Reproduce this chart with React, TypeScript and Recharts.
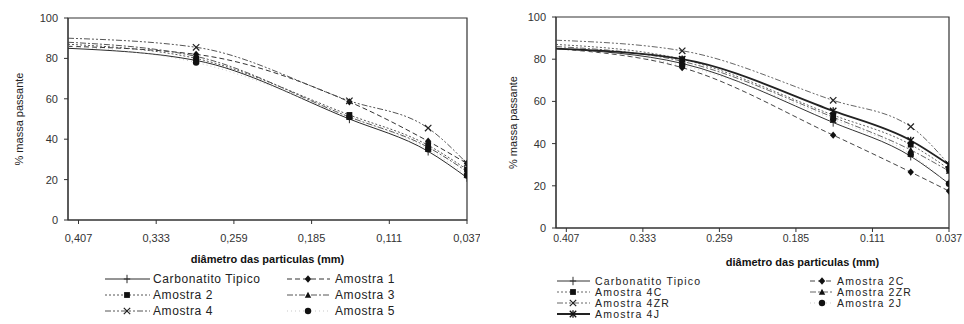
import React from "react";
import { LineChart, Line, XAxis, YAxis, ReferenceArea } from "recharts";

// diametro das particulas (mm) - peneiras
const diametros = [0.417, 0.295, 0.149, 0.074, 0.037];
const xTicks = [0.407, 0.333, 0.259, 0.185, 0.111, 0.037];
const yTicks = [0, 20, 40, 60, 80, 100];

// grafico da esquerda
const carbonatito = [85, 79, 50, 34, 21];
const amostra1 = [86, 82, 58.5, 39, 28];
const amostra2 = [87, 80, 52, 37, 25];
const amostra3 = [88, 81, 51, 36, 24];
const amostra4 = [90, 85.5, 59, 45.5, 28];
const amostra5 = [86, 78, 51, 35, 22];

// grafico da direita
const carbonatitoB = [85, 78, 50, 34, 21];
const amostra2C = [85, 76, 44, 26.5, 17.5];
const amostra2ZR = [86, 79, 52.5, 37, 27];
const amostra4C = [87, 80, 53.5, 39.5, 28];
const amostra4ZR = [89, 84, 60.5, 48, 30];
const amostra2J = [85, 77, 51.5, 35, 21];
const amostra4J = [85, 80, 55.5, 41.5, 30];

type Shape = "plus" | "diamond" | "square" | "triangle" | "x" | "circle" | "star";

type Serie = {
  key: string;
  name: string;
  values: number[];
  dash?: string;
  width: number;
  color: string;
  shape: Shape;
};

const seriesLeft: Serie[] = [
  { key: "carb", name: "Carbonatito Tipico", values: carbonatito, width: 1, color: "#2a2a2a", shape: "plus" },
  { key: "a1", name: "Amostra 1", values: amostra1, dash: "5 3", width: 1, color: "#333", shape: "diamond" },
  { key: "a2", name: "Amostra 2", values: amostra2, dash: "2 2", width: 1, color: "#555", shape: "square" },
  { key: "a3", name: "Amostra 3", values: amostra3, dash: "6 2 2 2", width: 1, color: "#555", shape: "triangle" },
  { key: "a4", name: "Amostra 4", values: amostra4, dash: "6 2 2 2 2 2", width: 1, color: "#555", shape: "x" },
  { key: "a5", name: "Amostra 5", values: amostra5, dash: "1 3", width: 0.8, color: "#bbb", shape: "circle" },
];

const seriesRight: Serie[] = [
  { key: "carb", name: "Carbonatito Tipico", values: carbonatitoB, width: 1, color: "#333", shape: "plus" },
  { key: "a2c", name: "Amostra 2C", values: amostra2C, dash: "5 3", width: 1, color: "#444", shape: "diamond" },
  { key: "a4c", name: "Amostra 4C", values: amostra4C, dash: "2 2", width: 1, color: "#666", shape: "square" },
  { key: "a2zr", name: "Amostra 2ZR", values: amostra2ZR, dash: "6 2 2 2", width: 1, color: "#666", shape: "triangle" },
  { key: "a4zr", name: "Amostra 4ZR", values: amostra4ZR, dash: "6 2 2 2 2 2", width: 1, color: "#666", shape: "x" },
  { key: "a2j", name: "Amostra 2J", values: amostra2J, dash: "1 3", width: 0.8, color: "#bbb", shape: "circle" },
  { key: "a4j", name: "Amostra 4J", values: amostra4J, width: 1.8, color: "#222", shape: "star" },
];

const buildRows = (series: Serie[]) =>
  diametros.map((d, i) => {
    const row: Record<string, number> = { d };
    series.forEach((s) => (row[s.key] = s.values[i]));
    return row;
  });

const Marker = ({ cx, cy, shape, color }: { cx: number; cy: number; shape: Shape; color: string }) => {
  const r = 3.2;
  switch (shape) {
    case "plus":
      return (
        <g stroke={color} strokeWidth={1}>
          <line x1={cx - r} y1={cy} x2={cx + r} y2={cy} />
          <line x1={cx} y1={cy - r - 1} x2={cx} y2={cy + r + 1} />
        </g>
      );
    case "diamond":
      return <polygon points={`${cx},${cy - r - 0.5} ${cx + r},${cy} ${cx},${cy + r + 0.5} ${cx - r},${cy}`} fill="#111" />;
    case "square":
      return <rect x={cx - r + 0.3} y={cy - r + 0.3} width={2 * r - 0.6} height={2 * r - 0.6} fill="#111" />;
    case "triangle":
      return <polygon points={`${cx},${cy - r} ${cx + r},${cy + r - 0.5} ${cx - r},${cy + r - 0.5}`} fill="#111" />;
    case "x":
      return (
        <g stroke="#222" strokeWidth={1.2}>
          <line x1={cx - r} y1={cy - r} x2={cx + r} y2={cy + r} />
          <line x1={cx - r} y1={cy + r} x2={cx + r} y2={cy - r} />
        </g>
      );
    case "circle":
      return <circle cx={cx} cy={cy} r={r} fill="#111" />;
    case "star":
      return (
        <g stroke="#111" strokeWidth={1.3}>
          <line x1={cx - r} y1={cy - r} x2={cx + r} y2={cy + r} />
          <line x1={cx - r} y1={cy + r} x2={cx + r} y2={cy - r} />
          <line x1={cx} y1={cy - r - 0.5} x2={cx} y2={cy + r + 0.5} />
        </g>
      );
  }
  return null;
};

const LegendItem = ({ s, x, y, lineW, markX, textX, fontSize, spacing }: { s: Serie; x: number; y: number; lineW: number; markX: number; textX: number; fontSize: number; spacing: number }) => (
  <g>
    <line x1={x} y1={y} x2={x + lineW} y2={y} stroke={s.color} strokeWidth={s.width} strokeDasharray={s.dash} />
    <Marker cx={x + markX} cy={y} shape={s.shape} color={s.color} />
    <text x={textX} y={y} dy="0.35em" fontSize={fontSize} fill="#222" letterSpacing={spacing} fontFamily="Liberation Sans, Arial, sans-serif">
      {s.name}
    </text>
  </g>
);

type PanelProps = {
  series: Serie[];
  width: number;
  plotLeft: number;
  plotRight: number;
  plotTop: number;
  plotBottom: number;
  tickMarginX: number;
  sep: string;
  titleDx: number;
  titleOffset: number;
  yLabelX: number;
  tickFont: number;
  titleFont: number;
};

const Panel = (p: PanelProps) => {
  const rows = buildRows(p.series);
  const font = "Liberation Sans, Arial, sans-serif";
  const axisW = p.plotLeft - 10;
  return (
    <LineChart
      width={p.width}
      height={324}
      data={rows}
      margin={{ top: p.plotTop, right: p.width - p.plotRight, left: 10, bottom: 324 - p.plotBottom - 40 }}
      style={{ fontFamily: font }}
    >
      <ReferenceArea x1={0.037} x2={0.417} y1={0} y2={100} fill="none" stroke="#333" strokeWidth={1.2} ifOverflow="visible" />
      <XAxis
        dataKey="d"
        type="number"
        domain={[0.037, 0.417]}
        reversed
        allowDataOverflow
        ticks={xTicks}
        interval={0}
        height={40}
        tickSize={4}
        tickMargin={p.tickMarginX}
        stroke="#333"
        tick={{ fill: "#333", fontSize: p.tickFont }}
        tickFormatter={(v: number) => v.toFixed(3).replace(".", p.sep)}
        label={{ value: "diâmetro das particulas (mm)", position: "insideBottom", offset: p.titleOffset, dx: p.titleDx, fontSize: p.titleFont, fontWeight: "bold", fill: "#111" }}
      />
      <YAxis
        type="number"
        domain={[0, 100]}
        ticks={yTicks}
        width={axisW}
        tickSize={4}
        tickMargin={6}
        stroke="#333"
        tick={{ fill: "#333", fontSize: 11 }}
        label={{ value: "% massa passante", angle: -90, position: "insideLeft", offset: p.yLabelX - 10, style: { textAnchor: "middle" }, fontSize: 11, fill: "#222" }}
      />
      {p.series.map((s) => (
        <Line
          key={s.key}
          dataKey={s.key}
          name={s.name}
          type="monotone"
          stroke={s.color}
          strokeWidth={s.width}
          strokeDasharray={s.dash}
          isAnimationActive={false}
          dot={(d: any) =>
            d.index === 0 ? <g key={`${s.key}-${d.index}`} /> : <g key={`${s.key}-${d.index}`}><Marker cx={d.cx} cy={d.cy} shape={s.shape} color={s.color} /></g>
          }
          activeDot={false}
        />
      ))}
    </LineChart>
  );
};

export default function App() {
  const L = seriesLeft;
  const R = seriesRight;
  return (
    <div style={{ position: "absolute", left: 0, top: 0, width: 964, height: 324, background: "#fff", overflow: "hidden" }}>
      <div style={{ position: "absolute", left: 0, top: 0 }}>
        <Panel series={L} width={480} plotLeft={68} plotRight={467} plotTop={18} plotBottom={220} tickMarginX={10} sep="," titleDx={0} titleOffset={-3} yLabelX={19} tickFont={11} titleFont={11} />
      </div>
      <div style={{ position: "absolute", left: 480, top: 0 }}>
        <Panel series={R} width={484} plotLeft={76} plotRight={469} plotTop={17} plotBottom={228} tickMarginX={3} sep="." titleDx={50} titleOffset={2} yLabelX={33} tickFont={10.5} titleFont={11} />
      </div>
      <svg width={964} height={324} style={{ position: "absolute", left: 0, top: 0, pointerEvents: "none" }}>
        <LegendItem s={L[0]} x={105} y={279} lineW={45} markX={22} textX={153} fontSize={12} spacing={0.6} />
        <LegendItem s={L[1]} x={287} y={279} lineW={43} markX={21} textX={335} fontSize={12} spacing={0.6} />
        <LegendItem s={L[2]} x={105} y={295} lineW={45} markX={22} textX={153} fontSize={12} spacing={0.6} />
        <LegendItem s={L[3]} x={287} y={295} lineW={43} markX={21} textX={335} fontSize={12} spacing={0.6} />
        <LegendItem s={L[4]} x={105} y={311} lineW={45} markX={22} textX={153} fontSize={12} spacing={0.6} />
        <LegendItem s={L[5]} x={287} y={311} lineW={43} markX={21} textX={335} fontSize={12} spacing={0.6} />

        <LegendItem s={R[0]} x={557} y={281} lineW={33} markX={16} textX={595} fontSize={10.5} spacing={1.2} />
        <LegendItem s={R[2]} x={557} y={292} lineW={33} markX={16} textX={595} fontSize={10.5} spacing={1.2} />
        <LegendItem s={R[4]} x={557} y={303} lineW={33} markX={16} textX={595} fontSize={10.5} spacing={1.2} />
        <LegendItem s={R[6]} x={557} y={314} lineW={33} markX={16} textX={595} fontSize={10.5} spacing={1.2} />
        <LegendItem s={R[1]} x={810} y={281} lineW={23} markX={12} textX={837} fontSize={10.5} spacing={1.2} />
        <LegendItem s={R[3]} x={810} y={292} lineW={23} markX={12} textX={837} fontSize={10.5} spacing={1.2} />
        <LegendItem s={R[5]} x={810} y={303} lineW={23} markX={12} textX={837} fontSize={10.5} spacing={1.2} />
      </svg>
    </div>
  );
}
